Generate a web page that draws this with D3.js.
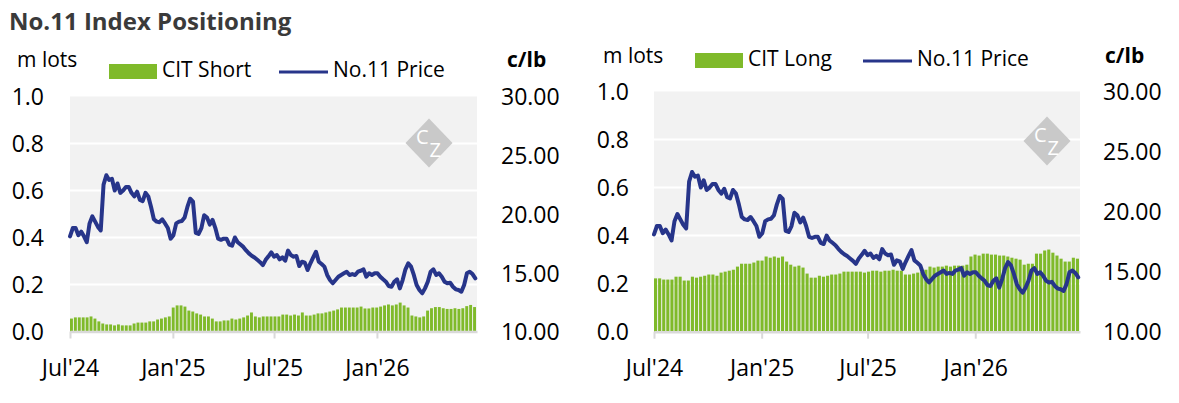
<!DOCTYPE html>
<html>
<head>
<meta charset="utf-8">
<script src="https://cdn.jsdelivr.net/npm/d3@7"></script>
<style>
  body { margin: 0; background: #fff; }
  svg text { font-family: "Open Sans", sans-serif; }
</style>
</head>
<body>
<svg id="chart" width="1179" height="403"></svg>
<script>
// weekly CIT positions (m lots), first week starting 2024-07-01
const barStart = "2024-07-01";
const citShort = [
  0.055, 0.060, 0.060, 0.060, 0.060, 0.064, 0.055, 0.043, 0.034, 0.030,
  0.030, 0.026, 0.030, 0.026, 0.026, 0.026, 0.034, 0.038, 0.038, 0.038,
  0.043, 0.043, 0.051, 0.055, 0.060, 0.064, 0.102, 0.111, 0.111, 0.106,
  0.089, 0.085, 0.077, 0.072, 0.064, 0.064, 0.055, 0.043, 0.043, 0.047,
  0.047, 0.055, 0.051, 0.055, 0.060, 0.068, 0.081, 0.064, 0.060, 0.064,
  0.064, 0.064, 0.064, 0.064, 0.072, 0.072, 0.068, 0.072, 0.068, 0.081,
  0.068, 0.068, 0.072, 0.077, 0.077, 0.081, 0.085, 0.089, 0.094, 0.102,
  0.102, 0.102, 0.102, 0.102, 0.106, 0.098, 0.098, 0.102, 0.102, 0.106,
  0.111, 0.115, 0.111, 0.115, 0.123, 0.111, 0.102, 0.068, 0.064, 0.060,
  0.064, 0.089, 0.099, 0.104, 0.104, 0.099, 0.096, 0.096, 0.099, 0.096,
  0.099, 0.108, 0.113, 0.104
];
const citLong = [
  0.222, 0.222, 0.217, 0.217, 0.217, 0.229, 0.229, 0.213, 0.213, 0.229,
  0.225, 0.229, 0.233, 0.238, 0.238, 0.233, 0.246, 0.250, 0.254, 0.258,
  0.271, 0.283, 0.283, 0.283, 0.288, 0.296, 0.296, 0.313, 0.308, 0.313,
  0.308, 0.313, 0.292, 0.279, 0.271, 0.275, 0.267, 0.242, 0.225, 0.225,
  0.233, 0.229, 0.233, 0.238, 0.238, 0.242, 0.250, 0.250, 0.250, 0.250,
  0.250, 0.246, 0.250, 0.254, 0.254, 0.250, 0.254, 0.254, 0.258, 0.254,
  0.254, 0.238, 0.238, 0.242, 0.246, 0.250, 0.258, 0.271, 0.267, 0.271,
  0.271, 0.275, 0.271, 0.275, 0.275, 0.275, 0.279, 0.313, 0.321, 0.317,
  0.325, 0.325, 0.321, 0.321, 0.317, 0.317, 0.313, 0.308, 0.304, 0.300,
  0.279, 0.283, 0.283, 0.325, 0.325, 0.338, 0.342, 0.329, 0.317, 0.304,
  0.292, 0.292, 0.308, 0.304
];

// No.11 price (c/lb), one reading every 5 days from 2024-07-01
const priceStart = "2024-07-01";
const priceStepDays = 5;
const price = [
  18.1, 18.8, 18.8, 18.2, 18.5, 18.1, 17.6, 19.2, 19.8, 19.35,
  18.9, 18.6, 22.5, 23.3, 22.9, 23.0, 22.0, 22.6, 21.8, 22.0,
  22.3, 22.3, 21.8, 21.5, 21.9, 21.2, 21.1, 21.8, 21.5, 20.6,
  19.55, 19.35, 19.3, 19.55, 19.2, 18.8, 17.9, 18.2, 19.2, 19.35,
  19.4, 19.7, 20.6, 21.3, 21.05, 18.4, 18.3, 18.8, 19.9, 19.7,
  19.1, 19.5, 18.8, 17.9, 17.8, 17.9, 17.9, 17.4, 17.3, 18.0,
  17.6, 17.4, 17.2, 16.9, 16.65, 16.45, 16.3, 16.1, 15.9, 15.65,
  16.1, 16.4,
  16.74, 16.37, 16.51, 16.14, 16.31, 16.03, 16.88, 16.51, 16.37, 16.43,
  15.57, 15.94, 15.86, 15.23, 15.8, 16.31, 16.79, 15.94, 15.74, 15.52,
  14.81, 14.38, 14.1, 14.38, 14.66, 14.81, 14.95, 15.09, 14.81, 14.89,
  14.81, 15.09, 15.17, 15.29, 14.66, 14.95, 14.81, 14.95, 14.95, 14.66,
  14.44, 14.24, 13.87, 13.81, 14.24, 14.44, 13.67, 14.38, 15.29, 15.8,
  15.52, 14.81, 13.96, 13.53, 13.25, 13.67, 14.24, 15.09, 15.29, 14.81,
  14.95, 14.66, 14.24, 14.1, 14.15, 13.81, 13.59, 13.53, 13.39, 13.96,
  14.95, 15.09, 14.89, 14.53
];

const tickDates = ["2024-07-01", "2025-01-01", "2025-07-01", "2026-01-01"];
const tickLabels = ["Jul'24", "Jan'25", "Jul'25", "Jan'26"];
const lotTicks = [0, 0.2, 0.4, 0.6, 0.8, 1.0];
const priceTicks = [10, 15, 20, 25, 30];

const GREEN = "#7fba2a";
const NAVY = "#27358a";

const parse = d3.timeParse("%Y-%m-%d");
const bar0 = parse(barStart);
const price0 = parse(priceStart);
const barDate = i => d3.timeDay.offset(bar0, i * 7);
const priceDate = i => d3.timeDay.offset(price0, i * priceStepDays);
const xDomain = [bar0, barDate(citShort.length)];

const svg = d3.select("#chart");

svg.append("text")
  .attr("x", 9)
  .attr("y", 30)
  .attr("font-size", 24)
  .attr("font-weight", 700)
  .attr("fill", "#3a3a3a")
  .text("No.11 Index Positioning");

const panels = [
  {
    left: 70, right: 477, top: 96.5, bottom: 331.5,
    bars: citShort, label: "CIT Short",
    lotLabelX: 44, priceLabelX: 501,
    unitY: 67, mlotsX: 17, clbX: 507,
    legendY: 72, legendRectX: 109, legendLineX: 279,
    logo: [429, 143]
  },
  {
    left: 654, right: 1080, top: 91.5, bottom: 331.7,
    bars: citLong, label: "CIT Long",
    lotLabelX: 629, priceLabelX: 1103,
    unitY: 63, mlotsX: 603, clbX: 1105,
    legendY: 61, legendRectX: 695, legendLineX: 863,
    logo: [1047, 141]
  }
];

panels.forEach(drawPanel);

function drawPanel(p) {
  const g = svg.append("g");

  const x = d3.scaleTime().domain(xDomain).range([p.left, p.right]);
  const yLots = d3.scaleLinear().domain([0, 1]).range([p.bottom, p.top]);
  const yPrice = d3.scaleLinear().domain([10, 30]).range([p.bottom, p.top]);

  g.append("rect")
    .attr("x", p.left)
    .attr("y", p.top)
    .attr("width", p.right - p.left)
    .attr("height", p.bottom - p.top)
    .attr("fill", "#f2f2f2");

  g.selectAll(".grid")
    .data(lotTicks.filter(d => d > 0 && d < 1))
    .join("line")
    .attr("class", "grid")
    .attr("x1", p.left)
    .attr("x2", p.right)
    .attr("y1", d => yLots(d))
    .attr("y2", d => yLots(d))
    .attr("stroke", "#fff")
    .attr("stroke-width", 2);

  // watermark: grey diamond, "C" up-left and "Z" down-right
  const logo = g.append("g").attr("transform", `translate(${p.logo[0]},${p.logo[1]})`);
  logo.append("path")
    .attr("d", "M0,-24.5 L23.5,0 L0,24.5 L-23.5,0 Z")
    .attr("fill", "#c9c9c9");
  logo.append("text")
    .attr("x", -0.5).attr("y", 1)
    .attr("text-anchor", "end")
    .attr("font-family", "'Liberation Serif', serif")
    .attr("font-size", 20)
    .attr("fill", "#fff")
    .text("C");
  logo.append("text")
    .attr("x", 0.5).attr("y", 14)
    .attr("text-anchor", "start")
    .attr("font-family", "'Liberation Serif', serif")
    .attr("font-size", 20)
    .attr("fill", "#fff")
    .text("Z");

  g.selectAll(".bar")
    .data(p.bars)
    .join("rect")
    .attr("class", "bar")
    .attr("x", (d, i) => x(barDate(i)))
    .attr("width", (d, i) => x(barDate(i + 1)) - x(barDate(i)) - 1)
    .attr("y", d => yLots(d))
    .attr("height", d => yLots(0) - yLots(d))
    .attr("fill", GREEN);

  // bottom axis
  const xAxis = d3.axisBottom(x)
    .tickValues(tickDates.map(parse))
    .tickFormat((d, i) => tickLabels[i])
    .tickSize(7)
    .tickSizeOuter(0);

  const ax = g.append("g")
    .attr("transform", `translate(0,${p.bottom})`)
    .call(xAxis);
  ax.select(".domain").attr("stroke", "#d9d9d9").attr("stroke-width", 2.5);
  ax.selectAll(".tick line").attr("stroke", "#d9d9d9").attr("stroke-width", 2);
  ax.selectAll(".tick text")
    .attr("y", 44)
    .attr("dy", 0)
    .attr("font-size", 23)
    .attr("font-family", "'Open Sans', sans-serif")
    .attr("fill", "#000");

  // left axis (m lots)
  const yl = g.append("g")
    .attr("transform", `translate(${p.lotLabelX},0)`)
    .call(d3.axisLeft(yLots).tickValues(lotTicks).tickFormat(d3.format(".1f")).tickSize(0).tickPadding(0));
  yl.select(".domain").remove();
  yl.selectAll("text")
    .attr("dy", "0.36em")
    .attr("font-size", 23)
    .attr("font-family", "'Open Sans', sans-serif")
    .attr("fill", "#000");

  // right axis (c/lb)
  const yr = g.append("g")
    .attr("transform", `translate(${p.priceLabelX},0)`)
    .call(d3.axisRight(yPrice).tickValues(priceTicks).tickFormat(d3.format(".2f")).tickSize(0).tickPadding(0));
  yr.select(".domain").remove();
  yr.selectAll("text")
    .attr("dy", "0.36em")
    .attr("font-size", 23)
    .attr("font-family", "'Open Sans', sans-serif")
    .attr("fill", "#000");

  // price line
  const line = d3.line()
    .x((d, i) => x(priceDate(i)))
    .y(d => yPrice(d));

  g.append("path")
    .datum(price)
    .attr("d", line)
    .attr("fill", "none")
    .attr("stroke", NAVY)
    .attr("stroke-width", 4)
    .attr("stroke-linejoin", "round")
    .attr("stroke-linecap", "round");

  // unit labels
  g.append("text")
    .attr("x", p.mlotsX)
    .attr("y", p.unitY)
    .attr("font-size", 21)
    .attr("fill", "#000")
    .text("m lots");
  g.append("text")
    .attr("x", p.clbX)
    .attr("y", p.unitY)
    .attr("font-size", 21)
    .attr("font-weight", 700)
    .attr("fill", "#000")
    .text("c/lb");

  // legend
  g.append("rect")
    .attr("x", p.legendRectX)
    .attr("y", p.legendY - 8)
    .attr("width", 48)
    .attr("height", 15)
    .attr("fill", GREEN);
  g.append("text")
    .attr("x", p.legendRectX + 53)
    .attr("y", p.legendY + 5)
    .attr("font-size", 21)
    .attr("fill", "#000")
    .text(p.label);
  g.append("line")
    .attr("x1", p.legendLineX)
    .attr("x2", p.legendLineX + 49)
    .attr("y1", p.legendY)
    .attr("y2", p.legendY)
    .attr("stroke", NAVY)
    .attr("stroke-width", 3);
  g.append("text")
    .attr("x", p.legendLineX + 54)
    .attr("y", p.legendY + 5)
    .attr("font-size", 21)
    .attr("fill", "#000")
    .text("No.11 Price");
}
</script>
</body>
</html>
